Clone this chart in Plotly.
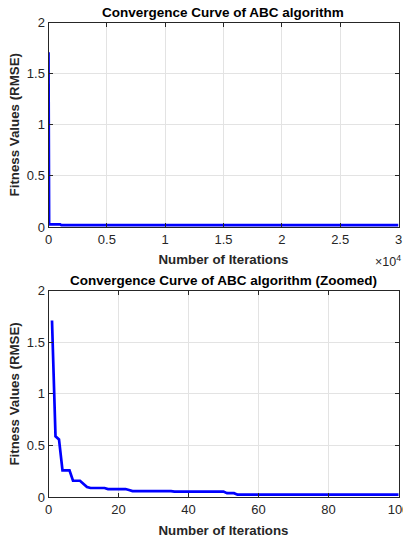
import plotly.graph_objects as go

# Convergence data (iteration, best fitness RMSE) at change points
iterations = [1, 2, 3, 4, 6, 7, 9, 10, 11, 12, 16, 17, 22, 23, 24, 35, 36, 50, 51, 53, 54, 1000, 1100, 30000]
fitness = [1.71, 0.59, 0.56, 0.26, 0.26, 0.16, 0.16, 0.13, 0.10, 0.09, 0.09, 0.08, 0.08, 0.07, 0.06,
           0.06, 0.055, 0.055, 0.04, 0.04, 0.025, 0.025, 0.018, 0.018]

y_ticks = [0, 0.5, 1, 1.5, 2]
y_ticklabels = ["0", "0.5", "1", "1.5", "2"]
top_x_ticks = [0, 5000, 10000, 15000, 20000, 25000, 30000]
top_x_ticklabels = ["0", "0.5", "1", "1.5", "2", "2.5", "3"]
zoom_x_ticks = [0, 20, 40, 60, 80, 100]
zoom_x_ticklabels = ["0", "20", "40", "60", "80", "100"]

title_top = "Convergence Curve of ABC algorithm"
title_bottom = "Convergence Curve of ABC algorithm (Zoomed)"
xlabel = "Number of Iterations"
ylabel = "Fitness Values (RMSE)"

W, H = 403, 540
FONT = "Liberation Sans, Arial, sans-serif"
AX = "#262626"
GRID = "#e3e3e3"

fig = go.Figure()
line = dict(color="#0000ff", width=2.7)
fig.add_trace(go.Scatter(x=iterations, y=fitness, mode="lines", line=line, xaxis="x", yaxis="y",
                         showlegend=False, cliponaxis=True))
fig.add_trace(go.Scatter(x=iterations, y=fitness, mode="lines", line=line, xaxis="x2", yaxis="y2",
                         showlegend=False, cliponaxis=True))

def px_x(p):
    return p / W

def px_y(p):
    return 1 - p / H

x_dom = [px_x(48.5), px_x(398.5)]
top_dom = [px_y(227), px_y(22.5)]
bot_dom = [px_y(497.3), px_y(290.5)]

common_axis = dict(showline=True, linecolor=AX, linewidth=1, mirror="allticks", ticks="inside",
                   ticklen=4, tickcolor=AX, showgrid=True, gridcolor=GRID, gridwidth=1,
                   zeroline=False, automargin=False, ticklabeloverflow="allow",
                   tickfont=dict(family=FONT, size=13, color=AX))

xtitle = dict(text="<b>" + xlabel + "</b>", font=dict(family=FONT, size=13.3, color=AX), standoff=9)
ytitle = dict(text="<b>" + ylabel + "</b>", font=dict(family=FONT, size=13.3, color=AX), standoff=4)

fig.update_layout(
    width=W, height=H, margin=dict(l=0, r=0, t=0, b=0, autoexpand=False),
    paper_bgcolor="white", plot_bgcolor="white",
    xaxis=dict(domain=x_dom, anchor="y", range=[0, 30000], tickmode="array",
               tickvals=top_x_ticks, ticktext=top_x_ticklabels, title=xtitle, **common_axis),
    yaxis=dict(domain=top_dom, anchor="x", range=[0, 2], tickmode="array",
               tickvals=y_ticks, ticktext=y_ticklabels, title=ytitle, **common_axis),
    xaxis2=dict(domain=x_dom, anchor="y2", range=[0, 100], tickmode="array",
                tickvals=zoom_x_ticks, ticktext=zoom_x_ticklabels, title=xtitle, **common_axis),
    yaxis2=dict(domain=bot_dom, anchor="x2", range=[0, 2], tickmode="array",
                tickvals=y_ticks, ticktext=y_ticklabels, title=ytitle, **common_axis),
    annotations=[
        dict(text="<b>" + title_top + "</b>", x=(x_dom[0] + x_dom[1]) / 2, y=px_y(12), xref="paper", yref="paper",
             xanchor="center", yanchor="middle", showarrow=False, font=dict(family=FONT, size=13.5, color="black")),
        dict(text="<b>" + title_bottom + "</b>", x=(x_dom[0] + x_dom[1]) / 2, y=px_y(280), xref="paper", yref="paper",
             xanchor="center", yanchor="middle", showarrow=False, font=dict(family=FONT, size=13.5, color="black")),
        dict(text="×10<sup>4</sup>", x=px_x(403), y=px_y(261), xref="paper", yref="paper",
             xanchor="right", yanchor="middle", showarrow=False, font=dict(family=FONT, size=12.5, color=AX)),
    ],
)

fig.write_html("out.html")
